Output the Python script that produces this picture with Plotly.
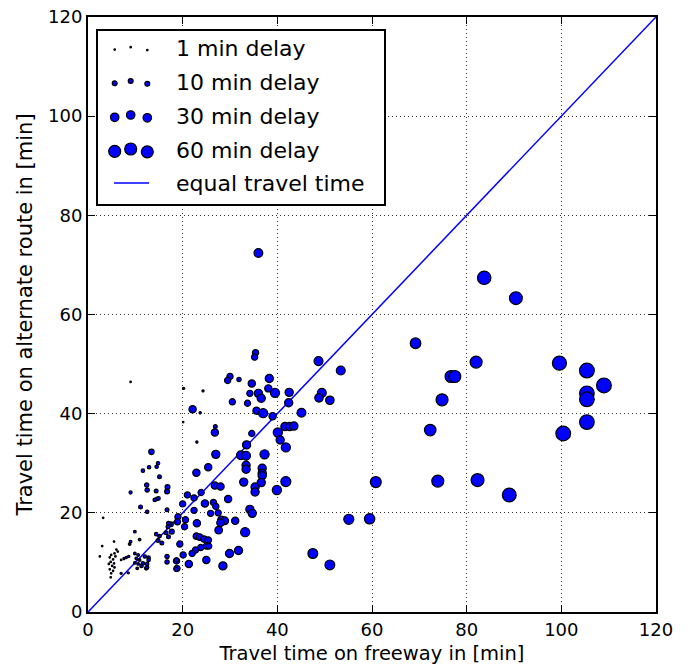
import math
import plotly.graph_objects as go

# ---- data ----
freeway = [
    # right-hand large-delay group
    83.7, 90.4, 69.2, 48.7, 53.4, 82.0, 99.6, 105.4, 109.0, 76.7, 77.5, 105.4, 105.4,
    49.4, 48.8, 51.1, 74.8, 45.1, 105.4, 100.4, 72.3, 60.8, 73.9, 82.3, 89.0,
    55.1, 59.5, 47.5, 51.1, 36.0,
    # main cluster, medium dots
    35.4, 35.2, 30.0, 29.5, 31.9, 38.3, 34.6, 39.5, 38.1, 42.5, 34.2, 36.0, 36.6,
    42.4, 30.5, 33.7, 22.1, 35.6, 37.0, 39.0, 26.9, 26.8, 34.6, 40.1, 41.6, 42.6,
    43.5, 40.6, 41.8, 33.5, 27.0, 32.3, 33.4, 37.3, 25.4, 33.4, 33.4, 36.8, 36.8,
    36.8, 22.9, 32.9, 36.6, 41.8, 26.8, 28.0, 35.3, 35.3, 39.9, 23.9, 21.0, 29.6,
    22.4, 24.7, 26.5, 20.0, 27.0, 34.2, 34.7, 22.4, 25.9, 27.5, 19.0, 18.9, 20.6,
    20.4, 23.0, 28.2, 28.9, 28.0, 27.6, 31.1, 33.2, 17.5, 17.7, 22.9, 23.6, 24.5,
    25.4, 25.0, 23.8, 22.7, 25.5, 19.4, 20.1, 18.7, 22.0, 25.0, 21.3, 18.8, 29.9,
    31.8, 28.5, 14.8, 15.6,
    # small dots
    20.2, 24.3, 23.7, 20.1, 23.0, 9.0, 13.4, 12.9, 14.5, 14.8, 11.6, 15.1, 12.4,
    12.5, 16.8, 16.7, 14.4, 9.0, 14.1, 14.6, 14.9, 11.1, 12.5, 16.7, 3.2, 9.9,
    10.9, 9.0, 8.8, 5.5, 3.0, 2.5, 17.0, 16.9, 16.5, 17.0, 15.1, 14.4,
    6.0, 6.3, 5.6, 4.9, 5.8, 4.6, 5.3, 4.8, 5.5, 4.4, 5.1, 5.6, 4.6, 5.3, 4.9, 4.8,
    7.0, 7.6, 8.1, 8.6, 7.0, 8.5,
    9.9, 10.6, 10.2, 10.9, 9.9, 10.6, 11.3, 10.4, 11.6, 12.3, 12.0, 12.8, 12.5,
    16.7, 16.7, 18.7, 18.6, 12.5, 12.8,
]

alternate = [
    67.4, 63.3, 54.2, 50.6, 48.7, 50.4, 50.2, 48.7, 45.7, 47.5, 47.5, 44.1, 42.9,
    44.2, 43.2, 42.7, 42.8, 40.2, 38.3, 36.0, 36.7, 26.2, 26.4, 26.6, 23.6,
    18.7, 18.8, 11.8, 9.5, 72.4,
    52.3, 51.4, 47.5, 46.7, 46.9, 47.1, 46.1, 44.2, 45.1, 44.3, 44.1, 44.1, 43.1,
    42.2, 42.4, 42.1, 40.9, 40.6, 40.1, 39.5, 37.4, 36.2, 36.0, 36.2, 37.4, 37.4,
    37.5, 34.7, 33.2, 33.7, 31.8, 31.6, 31.5, 31.8, 29.2, 29.6, 28.8, 29.0, 28.0,
    27.5, 28.1, 26.2, 26.1, 26.3, 25.5, 25.3, 25.2, 24.2, 24.6, 24.1, 23.6, 22.8,
    23.0, 21.9, 22.1, 21.8, 21.3, 20.7, 19.9, 20.5, 19.9, 20.0, 19.2, 18.2, 18.6,
    17.2, 17.9, 18.6, 18.4, 18.0, 16.5, 18.4, 16.1, 17.7, 16.2, 15.3, 15.1, 14.7,
    14.5, 13.3, 13.0, 12.5, 13.3, 13.7, 11.5, 10.3, 11.8, 10.5, 9.7, 8.8, 11.8,
    12.4, 9.3, 14.4, 13.9,
    45.1, 44.6, 40.2, 38.3, 34.3, 46.4, 32.3, 29.2, 29.3, 30.0, 28.5, 27.3, 25.6,
    24.6, 25.2, 24.3, 24.4, 24.1, 22.6, 22.8, 22.9, 21.2, 20.2, 20.6, 19.0, 16.2,
    14.6, 14.2, 13.7, 14.2, 13.3, 11.2, 17.9, 17.2, 16.0, 15.2, 15.3, 15.7,
    12.6, 12.2, 11.8, 11.5, 11.2, 11.0, 10.6, 10.1, 9.8, 9.7, 9.3, 9.0, 8.6, 8.3, 7.8, 7.0,
    10.5, 10.8, 11.0, 11.2, 7.8, 7.9,
    11.8, 11.5, 10.8, 10.5, 9.9, 9.7, 9.3, 8.8, 9.8, 8.8, 11.2, 11.0, 9.7,
    11.2, 10.1, 10.5, 8.6, 9.0, 10.5,
]

delay = [
    75, 68, 47, 33, 33, 60, 83, 91, 91, 60, 60, 90, 90,
    33, 30, 30, 60, 32, 90, 90, 55, 50, 60, 70, 80,
    42, 45, 40, 40, 32,
    16, 16, 16, 16, 8, 28, 22, 35, 22, 28, 16, 28, 28,
    28, 16, 16, 22, 22, 35, 22, 6, 22, 16, 35, 28, 28,
    28, 28, 35, 28, 28, 32, 32, 35, 22, 28, 28, 28, 28,
    28, 22, 28, 28, 42, 22, 22, 28, 28, 35, 16, 16, 22,
    16, 22, 16, 16, 16, 28, 28, 16, 16, 16, 16, 16, 16,
    16, 22, 24, 24, 24, 24, 22, 35, 10, 10, 18, 18, 18,
    18, 16, 16, 16, 16, 16, 16, 16, 16, 22, 22, 16, 28,
    28, 28, 6, 6,
    2, 2, 2, 1, 2, 1, 12, 5, 5, 5, 5, 6, 8,
    8, 10, 10, 6, 4, 5, 5, 5, 6, 5, 6, 1, 3,
    3, 3, 3, 1, 1, 1, 6, 6, 6, 6, 5, 5,
    1, 1, 1, 1, 1, 1, 1, 1, 1, 1, 1, 1, 1, 1, 1, 1,
    1, 2, 2, 2, 2, 2,
    3, 3, 3, 3, 3, 3, 5, 3, 5, 5, 5, 5, 5,
    8, 8, 8, 8, 5, 5,
]

equal_line = [0, 120]
legend_delays = [1, 10, 30, 60]
legend_labels = ["1 min delay", "10 min delay", "30 min delay", "60 min delay"]
line_label = "equal travel time"
x_ticks = [0, 20, 40, 60, 80, 100, 120]
y_ticks = [0, 20, 40, 60, 80, 100, 120]

# ---- styling ----
K = 1.55  # marker diameter (px) per sqrt(minute of delay)
EDGE = 1.2
FONT = "DejaVu Sans"
W, H = 691, 667
L, R, T, B = 88, 35, 17, 55
PW, PH = W - L - R, H - T - B


def px_to_paper(px, py):
    return (px - L) / PW, (H - B - py) / PH


sizes = [K * math.sqrt(d) for d in delay]

fig = go.Figure()
fig.add_trace(go.Scatter(
    x=equal_line, y=equal_line, mode="lines",
    line=dict(color="#0000ff", width=1.5), showlegend=False, hoverinfo="skip",
))
fig.add_trace(go.Scatter(
    x=freeway, y=alternate, mode="markers",
    marker=dict(size=sizes, color="#0000ff", opacity=1,
                line=dict(color="black", width=EDGE)),
    showlegend=False,
))

axis_common = dict(
    range=[0, 120], showline=True, linecolor="black", linewidth=2, mirror="ticks",
    ticks="inside", ticklen=7, tickwidth=1, tickcolor="black",
    showgrid=True, gridcolor="#333333", gridwidth=1, griddash="1px,3px",
    zeroline=False, ticklabeloverflow="allow",
    tickfont=dict(family=FONT, size=18, color="black"),
)
fig.update_xaxes(**axis_common, tickvals=x_ticks,
                 title=dict(text="Travel time on freeway in [min]",
                            font=dict(family=FONT, size=19.5, color="black"), standoff=8))
fig.update_yaxes(**axis_common, tickvals=y_ticks,
                 title=dict(text="Travel time on alternate route in [min]",
                            font=dict(family=FONT, size=21, color="black"), standoff=10))

# ---- custom legend (matplotlib-style, three scatter points per entry) ----
shapes = []
annotations = []
bx0, by0 = px_to_paper(97, 205)
bx1, by1 = px_to_paper(385, 30)
shapes.append(dict(type="rect", xref="paper", yref="paper", x0=bx0, y0=by0, x1=bx1, y1=by1,
                   line=dict(color="black", width=2), fillcolor="white", layer="above"))
row_py = [48.7, 82.5, 116.5, 150.5, 183]
mk_px = [114.7, 130.7, 147.3]
mk_dy = [0.8, -1.5, 1.3]
for i, (d, lab) in enumerate(zip(legend_delays, legend_labels)):
    r = K * math.sqrt(d) / 2
    for mx, dy in zip(mk_px, mk_dy):
        ax, ay = px_to_paper(mx, row_py[i] + dy)
        shapes.append(dict(type="circle", xref="paper", yref="paper",
                           xsizemode="pixel", ysizemode="pixel", xanchor=ax, yanchor=ay,
                           x0=-r, x1=r, y0=-r, y1=r, fillcolor="#0000ff",
                           line=dict(color="black", width=EDGE), layer="above"))
    tx, ty = px_to_paper(174, row_py[i])
    annotations.append(dict(xref="paper", yref="paper", x=tx, y=ty, text=lab,
                            showarrow=False, xanchor="left", yanchor="middle",
                            font=dict(family=FONT, size=22, color="black")))
lx0, ly = px_to_paper(114, row_py[4])
lx1, _ = px_to_paper(149, row_py[4])
shapes.append(dict(type="line", xref="paper", yref="paper", x0=lx0, x1=lx1, y0=ly, y1=ly,
                   line=dict(color="#0000ff", width=1.5), layer="above"))
tx, ty = px_to_paper(174, row_py[4])
annotations.append(dict(xref="paper", yref="paper", x=tx, y=ty, text=line_label,
                        showarrow=False, xanchor="left", yanchor="middle",
                        font=dict(family=FONT, size=22, color="black")))

fig.update_layout(
    width=W, height=H, margin=dict(l=L, r=R, t=T, b=B, autoexpand=False),
    paper_bgcolor="white", plot_bgcolor="white",
    shapes=shapes, annotations=annotations, showlegend=False,
)

# remove the default 8px page margin so the figure fills the window exactly
fig.write_html("out.html", config={"displayModeBar": False},
               post_script="document.body.style.margin='0';")
